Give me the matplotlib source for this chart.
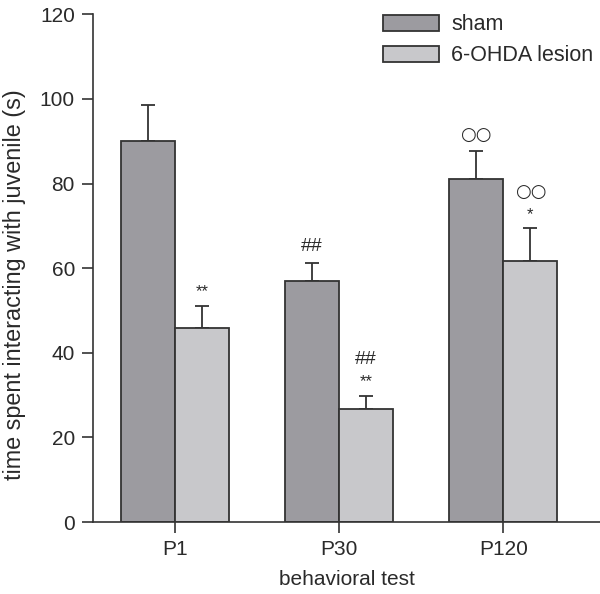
import matplotlib
matplotlib.use("Agg")
import matplotlib.pyplot as plt
import numpy as np

plt.rcParams['font.family'] = ['Liberation Sans', 'DejaVu Sans']

categories = ["P1", "P30", "P120"]
sham = [90.0, 57.0, 81.0]
sham_err = [8.5, 4.3, 6.6]
lesion = [45.8, 26.8, 61.7]
lesion_err = [5.3, 3.1, 7.8]
series_names = ["sham", "6-OHDA lesion"]
sham_marks = ["", "##", "○○"]
lesion_marks = [["**"], ["**", "##"], ["*", "○○"]]

fig = plt.figure(figsize=(6.0, 5.94), dpi=100)
ax = fig.add_axes([0.155, 0.121, 0.845, 0.855])

x = np.arange(len(categories))
w = 0.33
ec = "#333333"
c_sham = "#9c9ba0"
c_les = "#c8c8cb"

ax.bar(x - w/2, sham, w, color=c_sham, edgecolor=ec, linewidth=1.3, label=series_names[0], zorder=2)
ax.bar(x + w/2, lesion, w, color=c_les, edgecolor=ec, linewidth=1.3, label=series_names[1], zorder=2)
ax.errorbar(x - w/2, sham, yerr=[np.zeros(3), sham_err], fmt='none', ecolor=ec,
            elinewidth=1.3, capsize=5, capthick=1.3, zorder=1)
ax.errorbar(x + w/2, lesion, yerr=[np.zeros(3), lesion_err], fmt='none', ecolor=ec,
            elinewidth=1.3, capsize=5, capthick=1.3, zorder=1)

txtc = "#2a2a2a"
for i in range(3):
    top = sham[i] + sham_err[i]
    if sham_marks[i]:
        fs = 14 if sham_marks[i] == "##" else 13
        fam = ['Liberation Sans'] if sham_marks[i] == "##" else ['DejaVu Sans']
        ax.text(x[i] - w/2, top + 1.8, sham_marks[i], ha='center', va='bottom',
                fontsize=fs, color=txtc, family=fam)
    y = lesion[i] + lesion_err[i] + 1.5
    for m in lesion_marks[i]:
        if m.startswith("*"):
            ax.text(x[i] + w/2, y, m, ha='center', va='bottom', fontsize=12, color=txtc)
            y += 5.0
        elif m == "##":
            ax.text(x[i] + w/2, y, m, ha='center', va='bottom', fontsize=14, color=txtc)
            y += 6
        else:
            ax.text(x[i] + w/2, y, m, ha='center', va='bottom', fontsize=13, color=txtc,
                    family=['DejaVu Sans'])
            y += 6

ax.set_xlim(-0.5, 2.59)
ax.set_ylim(0, 120)
ax.set_yticks(np.arange(0, 121, 20))
ax.set_xticks(x)
ax.set_xticklabels(categories)
for s in ['top', 'right']:
    ax.spines[s].set_visible(False)
for s in ['left', 'bottom']:
    ax.spines[s].set_color(ec)
    ax.spines[s].set_linewidth(1.2)
ax.tick_params(axis='both', colors=ec, labelcolor=txtc, labelsize=15, length=8, width=1.2, pad=5)
ax.set_xlabel("behavioral test", fontsize=15, color=txtc, labelpad=8)
ax.set_ylabel("time spent interacting with juvenile (s)", fontsize=16.8, color=txtc)
ax.yaxis.set_label_coords(-0.132, 0.467)

leg = ax.legend(loc='upper right', bbox_to_anchor=(1.012, 1.025), frameon=False, fontsize=15.5,
                handlelength=2.6, handleheight=0.75, handletextpad=0.55, labelspacing=0.45,
                borderaxespad=0.2)
for t in leg.get_texts():
    t.set_color(txtc)

fig.savefig("out.png", dpi=100)
